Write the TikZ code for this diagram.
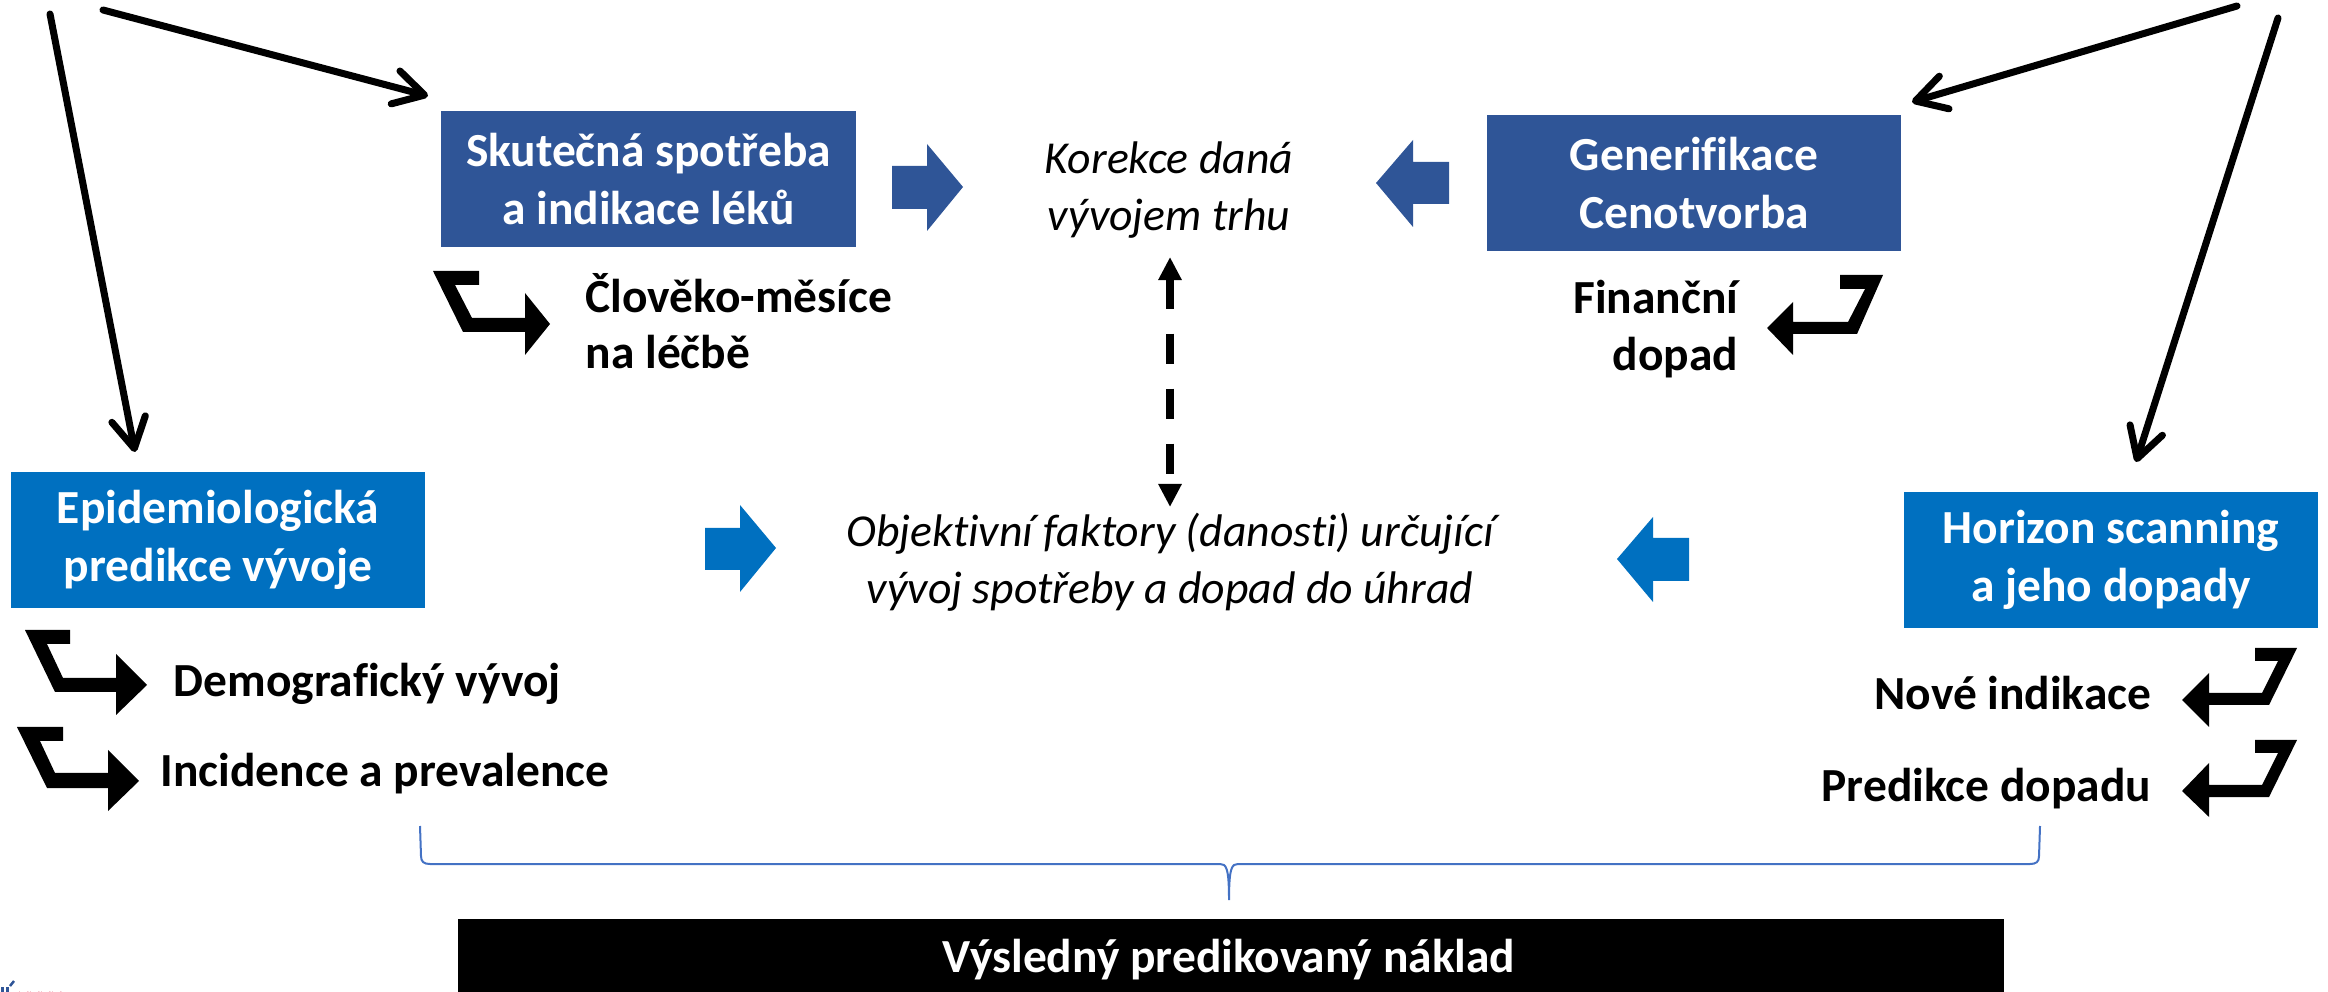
\documentclass[tikz,border=0pt]{standalone}
\usepackage{fontspec}
\setmainfont{Carlito}[Ligatures=CommonOff]
\usetikzlibrary{arrows.meta}
\definecolor{dkblue}{HTML}{2F5597}
\definecolor{ltblue}{HTML}{0070C0}
\definecolor{brblue}{HTML}{4472C4}
\definecolor{logored}{HTML}{D0103A}
\begin{document}
\begin{tikzpicture}[x=0.01cm,y=-0.01cm,
  box/.style={rectangle, inner sep=0pt, minimum width=4.14cm, minimum height=1.36cm, text=white, font=\fontsize{13.5}{16.5}\selectfont\bfseries, align=center},
  lbl/.style={inner sep=0pt, font=\fontsize{13.5}{16}\selectfont\bfseries},
  itl/.style={inner sep=0pt, font=\fontsize{13}{16.2}\selectfont\itshape, align=center},
  longarrow/.style={line width=0.07cm, line cap=round, -{Straight Barb[length=0.3cm,width=0.34cm,round]}},
  dasharrow/.style={line width=0.075cm, dash pattern=on 0.3cm off 0.25cm, {Triangle[length=0.23cm,width=0.22cm]}-{Triangle[length=0.23cm,width=0.22cm]}},
  bent/.style={fill=black},
  blockdk/.style={fill=dkblue},
  blocklt/.style={fill=ltblue},
  brace/.style={draw=brblue, line width=0.02cm}
]
\useasboundingbox (0,0) rectangle (2328,992);

% boxes
\node[box, fill=dkblue] (sku) at (648.5,179) {Skutečná spotřeba\\a indikace léků};
\node[box, fill=dkblue] (gen) at (1694,183) {Generifikace\\Cenotvorba};
\node[box, fill=ltblue] (epi) at (218,540) {Epidemiologická\\predikce vývoje};
\node[box, fill=ltblue] (hor) at (2111,560) {Horizon scanning\\a jeho dopady};

% italic texts
\node[itl] (kor) at (1169,190) {Korekce daná\\vývojem trhu};
\node[itl] (obj) at (1170,562) {Objektivní faktory (danosti) určující\\vývoj spotřeby a dopad do úhrad};

% labels
\node[lbl, align=left, anchor=west] (clo) at (585,321) {Člověko-měsíce\\na léčbě};
\node[lbl, align=right, anchor=east] (fin) at (1739,329) {Finanční\\dopad};
\node[lbl, anchor=base west] (dem) at (173,697) {Demografický vývoj};
\node[lbl, anchor=base west] (inc) at (160,787) {Incidence a prevalence};
\node[lbl, anchor=base east] (nov) at (2152,709) {Nové indikace};
\node[lbl, anchor=base east] (pre) at (2152,801) {Predikce dopadu};

% bottom bar
\node[fill=black, inner sep=0pt, minimum width=15.45cm, minimum height=0.8cm, anchor=north west] (bar) at (457,918) {};
\node[lbl, text=white, anchor=base] (res) at (1229,972) {Výsledný predikovaný náklad};

% block arrows
\path[blockdk] (892,166) -- (927,166) -- (927,144) -- (963,187) -- (927,231) -- (927,209) -- (892,209) -- cycle;
\path[blockdk] (1449,162) -- (1413,162) -- (1413,140) -- (1376,183) -- (1413,227) -- (1413,204) -- (1449,204) -- cycle;
\path[blocklt] (705,528) -- (740,528) -- (740,505) -- (776,548) -- (740,592) -- (740,570) -- (705,570) -- cycle;
\path[blocklt] (1689,538) -- (1653,538) -- (1653,517) -- (1617,559) -- (1653,602) -- (1653,581) -- (1689,581) -- cycle;

% bent arrows
\path[bent] (433,271) -- (479,271) -- (479,285) -- (455,285) -- (472,318) -- (525,318) -- (525,293) -- (550,324) -- (525,355) -- (525,332) -- (463,332) -- cycle;
\path[bent] (1840,275) -- (1883,275) -- (1857,334) -- (1793,334) -- (1793,355) -- (1767,328) -- (1793,302) -- (1793,322) -- (1848,322) -- (1865,289) -- (1840,289) -- cycle;
\path[bent] (25,630) -- (70,630) -- (70,644) -- (47,644) -- (63,678) -- (116,678) -- (116,654) -- (147,685) -- (116,715) -- (116,692) -- (55,692) -- cycle;
\path[bent] (17,727) -- (63,727) -- (63,741) -- (40,741) -- (55,773) -- (108,773) -- (108,750) -- (139,781) -- (108,811) -- (108,788) -- (47,788) -- cycle;
\path[bent] (2255,648) -- (2297,648) -- (2269,705) -- (2209,705) -- (2209,727) -- (2182,700) -- (2209,673) -- (2209,693) -- (2262,693) -- (2278,661) -- (2255,661) -- cycle;
\path[bent] (2255,740) -- (2297,740) -- (2269,797) -- (2209,797) -- (2209,817) -- (2182,791) -- (2209,763) -- (2209,785) -- (2262,785) -- (2278,753) -- (2255,753) -- cycle;

% long arrows
\coordinate (a1s) at (50,14);   \coordinate (a1e) at (135,452);
\coordinate (a2s) at (103,10);  \coordinate (a2e) at (428,96);
\coordinate (a3s) at (2237,6);  \coordinate (a3e) at (1912,102);
\coordinate (a4s) at (2278,18); \coordinate (a4e) at (2136,462);
\draw[longarrow] (a1s) -- (a1e);
\draw[longarrow] (a2s) -- (a2e);
\draw[longarrow] (a3s) -- (a3e);
\draw[longarrow] (a4s) -- (a4e);

% dashed arrow
\coordinate (dtop) at (1170,257);
\coordinate (dbot) at (1170,507);
\draw[dasharrow] (dtop) -- (dbot);

% brace
\draw[brace] (420,826) -- (421,856) .. controls (421,862) and (424,864) .. (430,864) -- (1220,864) .. controls (1226,864) and (1229,867) .. (1229,900) .. controls (1229,867) and (1232,864) .. (1238,864) -- (2030,864) .. controls (2036,864) and (2039,862) .. (2039,856) -- (2040,826);

% logo fragment
\fill[dkblue] (1,987) rectangle (4,992);
\fill[dkblue] (6,987) rectangle (9,992);
\draw[dkblue, line width=0.025cm] (10,986) -- (14,981);
\foreach \i in {0,1,2,3} {
  \fill[logored] (19+11*\i,992) -- (19+11*\i,991) arc[start angle=180, end angle=0, radius=4.5] -- (28+11*\i,992) -- cycle;
}
\end{tikzpicture}
\end{document}
